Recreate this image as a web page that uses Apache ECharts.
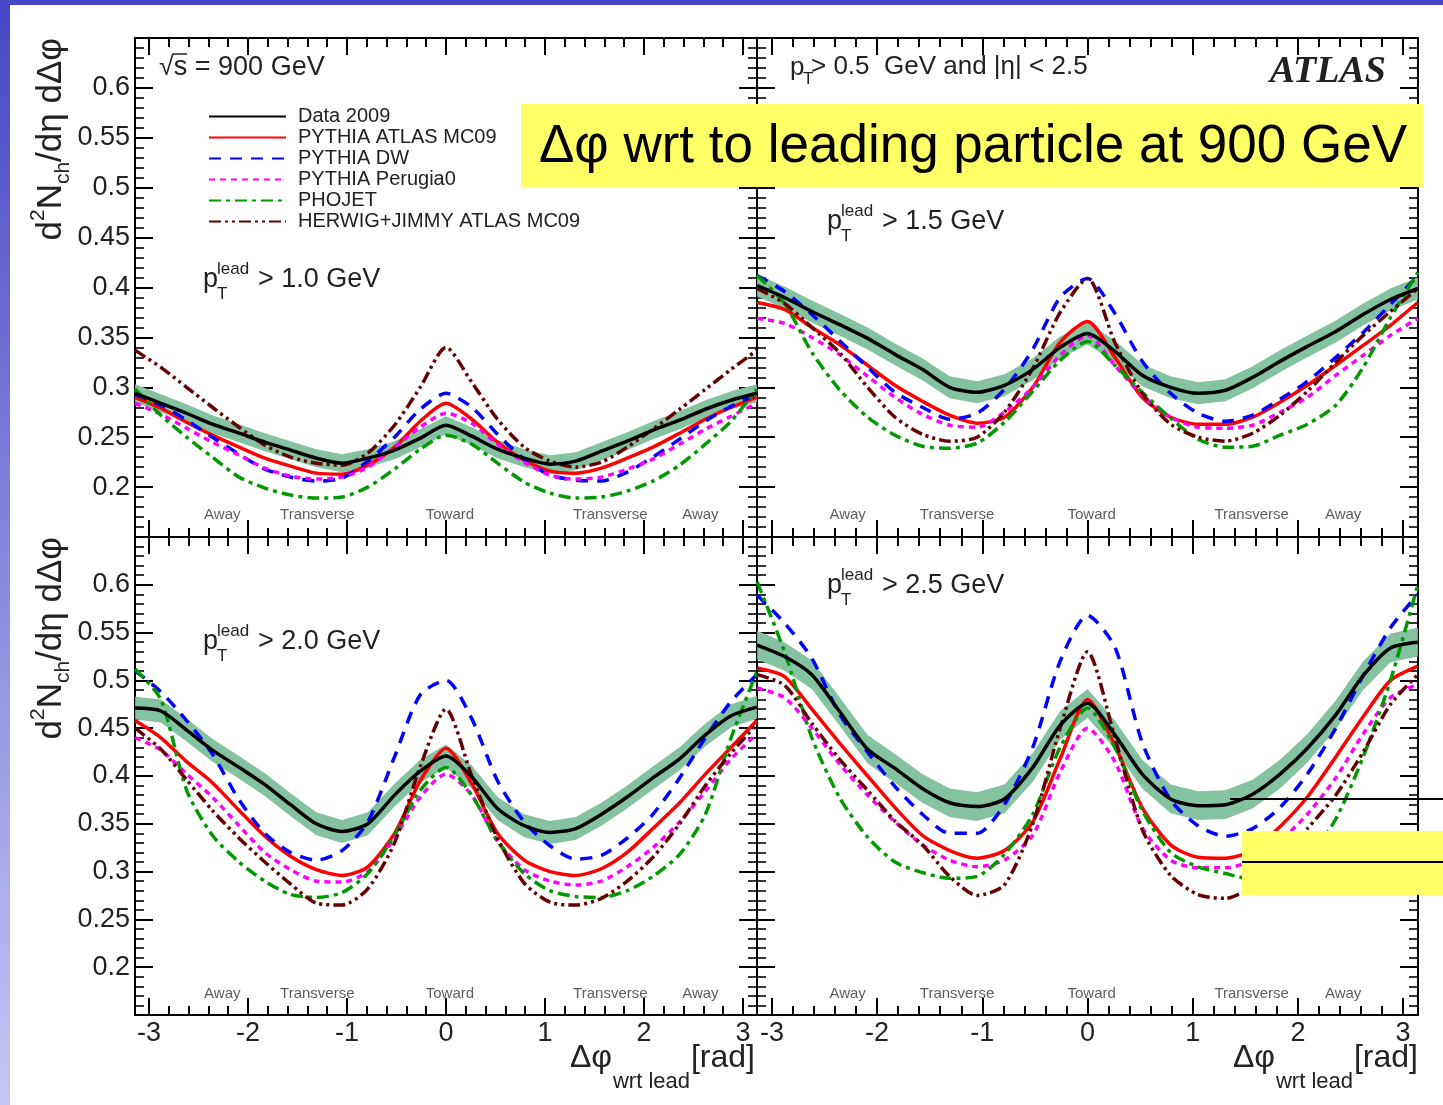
<!DOCTYPE html>
<html><head><meta charset="utf-8">
<script src="https://cdn.jsdelivr.net/npm/echarts@6/dist/echarts.min.js"></script>
<style>
html,body{margin:0;padding:0;width:1443px;height:1105px;overflow:hidden;background:linear-gradient(to bottom,#4646c6,#c6c6f3);}
#chart{position:absolute;left:0;top:0;width:1443px;height:1105px;}
</style></head><body><div id="chart"></div>
<script>
// ---------- data ----------
const dphi = [-3.14,-2.88,-2.62,-2.36,-2.09,-1.83,-1.57,-1.31,-1.05,-0.79,-0.52,-0.26,0,0.26,0.52,0.79,1.05,1.31,1.57,1.83,2.09,2.36,2.62,2.88,3.14];

// pT lead > 1.0 GeV
const data_10 = [0.294,0.284,0.274,0.263,0.254,0.245,0.237,0.229,0.224,0.229,0.237,0.249,0.262,0.251,0.238,0.229,0.223,0.226,0.236,0.246,0.257,0.267,0.278,0.287,0.294];
const mc09_10 = [0.290,0.279,0.265,0.252,0.240,0.229,0.221,0.214,0.213,0.222,0.240,0.266,0.284,0.268,0.245,0.227,0.216,0.214,0.219,0.229,0.240,0.254,0.268,0.280,0.290];
const dw_10   = [0.293,0.282,0.267,0.250,0.233,0.218,0.210,0.206,0.209,0.226,0.250,0.278,0.294,0.280,0.253,0.228,0.212,0.207,0.206,0.215,0.230,0.248,0.266,0.281,0.293];
const per_10  = [0.284,0.273,0.259,0.245,0.232,0.219,0.211,0.208,0.210,0.220,0.240,0.260,0.274,0.264,0.243,0.225,0.212,0.208,0.210,0.218,0.228,0.243,0.258,0.271,0.284];
const pho_10  = [0.298,0.272,0.250,0.230,0.210,0.199,0.192,0.189,0.190,0.200,0.218,0.238,0.252,0.243,0.224,0.205,0.194,0.189,0.190,0.196,0.206,0.222,0.243,0.266,0.298];
const her_10  = [0.337,0.320,0.300,0.280,0.260,0.242,0.230,0.224,0.222,0.234,0.262,0.300,0.340,0.305,0.268,0.240,0.226,0.220,0.225,0.240,0.258,0.278,0.298,0.318,0.337];

// pT lead > 1.5 GeV
const data_15 = [0.402,0.390,0.376,0.363,0.349,0.333,0.318,0.300,0.295,0.302,0.318,0.340,0.354,0.336,0.312,0.300,0.294,0.297,0.310,0.326,0.341,0.356,0.373,0.388,0.399];
const mc09_15 = [0.385,0.378,0.360,0.343,0.322,0.302,0.286,0.272,0.264,0.270,0.300,0.345,0.366,0.330,0.290,0.270,0.263,0.263,0.270,0.285,0.302,0.322,0.342,0.362,0.385];
const dw_15   = [0.412,0.396,0.373,0.347,0.320,0.295,0.280,0.268,0.274,0.298,0.338,0.390,0.409,0.374,0.326,0.294,0.274,0.266,0.272,0.288,0.306,0.330,0.355,0.383,0.412];
const per_15  = [0.369,0.364,0.350,0.333,0.311,0.290,0.273,0.262,0.260,0.275,0.300,0.332,0.352,0.322,0.292,0.270,0.260,0.259,0.262,0.275,0.290,0.312,0.332,0.352,0.369];
const pho_15  = [0.412,0.384,0.335,0.298,0.270,0.252,0.241,0.239,0.244,0.265,0.296,0.327,0.346,0.322,0.295,0.269,0.248,0.240,0.241,0.252,0.263,0.282,0.320,0.370,0.415];
const her_15  = [0.399,0.384,0.360,0.335,0.300,0.270,0.253,0.246,0.250,0.275,0.319,0.375,0.409,0.345,0.294,0.263,0.250,0.246,0.254,0.272,0.296,0.325,0.352,0.376,0.399];

// pT lead > 2.0 GeV
const data_20 = [0.471,0.468,0.448,0.427,0.409,0.391,0.370,0.350,0.342,0.350,0.380,0.405,0.421,0.399,0.366,0.348,0.341,0.345,0.360,0.378,0.398,0.418,0.443,0.463,0.472];
const mc09_20 = [0.458,0.440,0.415,0.393,0.364,0.337,0.316,0.302,0.296,0.305,0.340,0.395,0.429,0.392,0.340,0.312,0.300,0.296,0.303,0.320,0.345,0.372,0.402,0.430,0.458];
const dw_20   = [0.510,0.488,0.458,0.423,0.375,0.340,0.320,0.312,0.322,0.352,0.420,0.485,0.500,0.460,0.395,0.352,0.327,0.313,0.317,0.335,0.360,0.398,0.440,0.478,0.506];
const per_20  = [0.440,0.427,0.402,0.378,0.348,0.320,0.302,0.290,0.289,0.300,0.335,0.378,0.402,0.380,0.332,0.302,0.290,0.286,0.290,0.305,0.325,0.352,0.384,0.418,0.444];
const pho_20  = [0.512,0.480,0.385,0.338,0.310,0.290,0.276,0.273,0.278,0.298,0.338,0.385,0.409,0.380,0.332,0.298,0.280,0.274,0.273,0.280,0.295,0.318,0.360,0.440,0.509];
const her_20  = [0.450,0.428,0.396,0.364,0.335,0.310,0.287,0.267,0.265,0.282,0.330,0.410,0.470,0.400,0.335,0.288,0.268,0.265,0.272,0.290,0.315,0.350,0.390,0.424,0.454];

// pT lead > 2.5 GeV
const data_25 = [0.537,0.525,0.506,0.468,0.428,0.408,0.387,0.372,0.368,0.376,0.409,0.453,0.476,0.443,0.402,0.376,0.369,0.370,0.381,0.402,0.429,0.464,0.505,0.534,0.540];
const mc09_25 = [0.513,0.504,0.470,0.435,0.400,0.367,0.338,0.322,0.314,0.322,0.352,0.418,0.480,0.432,0.367,0.328,0.315,0.314,0.322,0.347,0.378,0.420,0.462,0.500,0.515];
const dw_25   = [0.589,0.560,0.523,0.465,0.425,0.389,0.360,0.340,0.340,0.370,0.430,0.520,0.568,0.535,0.435,0.375,0.348,0.337,0.345,0.367,0.402,0.450,0.505,0.555,0.590];
const per_25  = [0.492,0.482,0.450,0.413,0.380,0.352,0.328,0.312,0.305,0.312,0.338,0.404,0.450,0.415,0.346,0.312,0.304,0.304,0.312,0.332,0.360,0.398,0.444,0.482,0.496];
const pho_25  = [0.603,0.530,0.440,0.378,0.336,0.310,0.299,0.293,0.295,0.318,0.360,0.430,0.471,0.430,0.364,0.320,0.305,0.298,0.292,0.298,0.313,0.355,0.420,0.500,0.600];
const her_25  = [0.506,0.495,0.455,0.418,0.385,0.353,0.328,0.295,0.275,0.286,0.350,0.450,0.530,0.440,0.344,0.296,0.276,0.272,0.285,0.315,0.345,0.380,0.425,0.475,0.506];

// systematic band half-width per panel
const bandHalf = [0.009, 0.011, 0.012, 0.015];

const seriesNames = ['Data 2009','PYTHIA ATLAS MC09','PYTHIA DW','PYTHIA Perugia0','PHOJET','HERWIG+JIMMY ATLAS MC09'];
const panelLabels = ['> 1.0 GeV','> 1.5 GeV','> 2.0 GeV','> 2.5 GeV'];
const regionNames = ['Away','Transverse','Toward','Transverse','Away'];
const regionPosLeft  = [-2.26,-1.30,0.04,1.66,2.57];
const regionPosRight = [-2.28,-1.24,0.04,1.56,2.43];
const xMajorTicks = [-3,-2,-1,0,1,2,3];
const yRange = [0.15, 0.65];

// ---------- styling / layout ----------
const FONT = '"Liberation Sans", Arial, Helvetica, sans-serif';
const panels = [
  {vals:[data_10,mc09_10,dw_10,per_10,pho_10,her_10], grid:{left:135,top:38,width:622,height:499}, xl:false, yl:true, reg:regionPosLeft},
  {vals:[data_15,mc09_15,dw_15,per_15,pho_15,her_15], grid:{left:757,top:38,width:661,height:499}, xl:false, yl:false, reg:regionPosRight},
  {vals:[data_20,mc09_20,dw_20,per_20,pho_20,her_20], grid:{left:135,top:537,width:622,height:478}, xl:true, yl:true, reg:regionPosLeft},
  {vals:[data_25,mc09_25,dw_25,per_25,pho_25,her_25], grid:{left:757,top:537,width:661,height:478}, xl:true, yl:false, reg:regionPosRight}
];
const lineStyles = [
  {color:'#000000', width:3.5, type:'solid'},
  {color:'#ff0000', width:3.5, type:'solid'},
  {color:'#0000ff', width:3.5, type:[12,9]},
  {color:'#ff00ff', width:3.5, type:[6,5]},
  {color:'#009a00', width:3.5, type:[12,5,4,5]},
  {color:'#660000', width:3.5, type:[12,4,3,4,3,4]}
];
const xMinorTicks = [];
for (let v = -3.0; v <= 3.01; v += 0.2) xMinorTicks.push(Math.round(v*10)/10);

const grids = [], xAxes = [], yAxes = [], series = [];
panels.forEach((p, g) => {
  grids.push(Object.assign({containLabel:false}, p.grid));
  const baseX = {gridIndex:g, type:'value', min:-Math.PI, max:Math.PI, splitLine:{show:false}};
  const mk = (pos, major, label) => Object.assign({}, baseX, {
    position:pos,
    axisLine:{show:major, onZero:false, lineStyle:{color:'#000', width:2}},
    axisTick:{show:true, inside:true, length: major?17:9, customValues: major?xMajorTicks:xMinorTicks, lineStyle:{color:'#000', width:2}},
    axisLabel:{show:label, customValues:xMajorTicks, fontSize:27, fontFamily:FONT, color:'#222', margin:5}
  });
  xAxes.push(mk('bottom', true, p.xl), mk('bottom', false, false), mk('top', true, false), mk('top', false, false));
  const mkY = (pos, label) => ({
    gridIndex:g, type:'value', min:yRange[0], max:yRange[1], interval:0.05, position:pos,
    splitLine:{show:false}, minorSplitLine:{show:false},
    axisLine:{show:true, onZero:false, lineStyle:{color:'#000', width:2}},
    axisTick:{show:true, inside:true, length:18, lineStyle:{color:'#000', width:2}},
    minorTick:{show:true, splitNumber:5, length:9, lineStyle:{color:'#000', width:1.6}},
    axisLabel:{show:label, showMinLabel:false, showMaxLabel:false, fontSize:27, fontFamily:FONT, color:'#222', margin:5,
      formatter: v => String(Math.round(v*100)/100)}
  });
  yAxes.push(mkY('left', p.yl), mkY('right', false));
  const xi = g*4, yi = g*2;
  const d = p.vals[0], b = bandHalf[g];
  // systematic band (polygon through data +/- half width)
  series.push({type:'custom', xAxisIndex:xi, yAxisIndex:yi, silent:true, z:1,
    data: dphi.map((x,i)=>[x, d[i]-b, d[i]+b]),
    encode:{x:0, y:[1,2]},
    renderItem: (params, api) => {
      if (params.dataIndex !== 0) return null;
      const upper = [], lower = [];
      for (let i = 0; i < dphi.length; i++) {
        upper.push(api.coord([dphi[i], d[i]+b]));
        lower.push(api.coord([dphi[i], d[i]-b]));
      }
      return {type:'polygon', shape:{points: upper.concat(lower.reverse())}, style:{fill:'#84c2a2'}};
    }});
  [1,2,3,4,5,0].forEach(k => {
    series.push({type:'line', name:seriesNames[k], xAxisIndex:xi, yAxisIndex:yi, symbol:'none', smooth:0.25,
      data: dphi.map((x,i)=>[x, p.vals[k][i]]), lineStyle:lineStyles[k], itemStyle:{color:lineStyles[k].color},
      z: k===0?4:3});
  });
  series.push({type:'scatter', xAxisIndex:xi, yAxisIndex:yi, symbolSize:1, itemStyle:{color:'rgba(0,0,0,0)'}, silent:true, z:5,
    data: p.reg.map((x,i)=>[x, 0.172, regionNames[i]]),
    label:{show:true, position:'inside', formatter: q => q.value[2], fontSize:15, fontFamily:FONT, color:'#333'}});
});

// ---------- text graphics ----------
function txt(x, y, text, size, opts){
  return Object.assign({type:'text', x:x, y:y, z:60, silent:true,
    style:Object.assign({text:text, fontSize:size, fontFamily:FONT, fill:'#222', verticalAlign:'middle', align:'left'}, opts||{})});
}
function ptLead(x, y, rest){
  return [txt(x, y, 'p', 27), txt(x+14, y-11, 'lead', 17), txt(x+14, y+14, 'T', 17), txt(x+55, y, rest, 27)];
}
function yTitle(y){
  return {type:'text', x:51, y:y, rotation:Math.PI/2, z:60, silent:true,
    style:{text:'{m|d}{sup|2}{m|N}{sub|ch}{m|/dη dΔφ}', align:'right', verticalAlign:'middle', fill:'#222',
      rich:{
        m:{fontSize:35, fontFamily:FONT, fill:'#222', lineHeight:46, verticalAlign:'middle'},
        sup:{fontSize:21, fontFamily:FONT, fill:'#222', lineHeight:23, verticalAlign:'top'},
        sub:{fontSize:21, fontFamily:FONT, fill:'#222', lineHeight:23, verticalAlign:'bottom'}
      }}};
}
function xTitle(right){
  return [
    txt(right, 1058, '[rad]', 32, {align:'right'}),
    txt(right-65, 1082, 'wrt lead', 22, {align:'right'}),
    txt(right-143, 1058, 'Δφ', 32, {align:'right'})
  ];
}

const graphics = [
  {type:'rect', z:-100, silent:true, shape:{x:10, y:5, width:1433, height:1100}, style:{fill:'#ffffff'}},
  txt(159, 68, '√s = 900 GeV', 27),
  {type:'line', z:60, silent:true, shape:{x1:173, y1:54, x2:187, y2:54}, style:{stroke:'#222', lineWidth:1.5}},
  txt(790, 68, 'p', 26), txt(803, 79, 'T', 17),
  txt(811, 67, '> 0.5  GeV and |η| < 2.5', 26),
  txt(1386, 72, 'ATLAS', 38, {align:'right', fontFamily:'"Liberation Serif", "Times New Roman", serif', fontWeight:'bold', fontStyle:'italic'}),
  ...ptLead(203, 280, panelLabels[0]),
  ...ptLead(827, 222, panelLabels[1]),
  ...ptLead(203, 642, panelLabels[2]),
  ...ptLead(827, 586, panelLabels[3]),
  yTitle(38), yTitle(537),
  ...xTitle(755), ...xTitle(1418),
  {type:'rect', z:100, silent:true, shape:{x:521, y:104, width:902, height:83}, style:{fill:'#ffff66'}},
  {type:'text', z:101, silent:true, x:973, y:147, style:{text:'Δφ wrt to leading particle at 900 GeV', fontSize:53, fontFamily:FONT, fill:'#000', align:'center', verticalAlign:'middle'}},
  {type:'line', z:100, silent:true, shape:{x1:1230, y1:799, x2:1443, y2:799}, style:{stroke:'#000', lineWidth:2}},
  {type:'rect', z:100, silent:true, shape:{x:1242, y:831, width:201, height:64}, style:{fill:'#ffff66'}},
  {type:'line', z:101, silent:true, shape:{x1:1242, y1:862, x2:1443, y2:862}, style:{stroke:'#000', lineWidth:2}}
];

const chart = echarts.init(document.getElementById('chart'), null, {renderer:'canvas'});
chart.setOption({
  animation:false,
  backgroundColor:'transparent',
  grid:grids, xAxis:xAxes, yAxis:yAxes, series:series,
  legend:{data:seriesNames, orient:'vertical', left:203, top:101, itemWidth:77, itemHeight:12, itemGap:0,
    selectedMode:false, itemStyle:{opacity:0},
    textStyle:{fontFamily:FONT, fontSize:20, color:'#222', lineHeight:21, padding:[0,0,0,7]}},
  graphic:graphics
});
</script></body></html>
